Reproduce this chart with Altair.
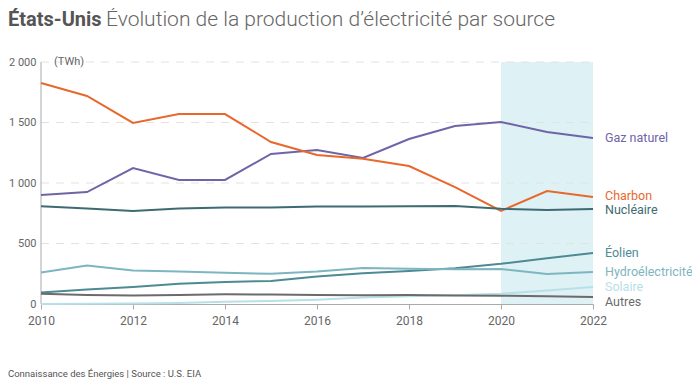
import altair as alt
import pandas as pd

years = list(range(2010, 2023))
gaz = [900, 925, 1124, 1025, 1025, 1240, 1273, 1207, 1364, 1471, 1504, 1421, 1372]
charbon = [1826, 1719, 1496, 1570, 1570, 1339, 1231, 1200, 1140, 966, 769, 934, 884]
nucleaire = [807, 790, 769, 789, 797, 797, 805, 805, 807, 809, 787, 777, 785]
eolien = [95, 120, 141, 168, 182, 191, 227, 254, 273, 295, 332, 378, 421]
hydro = [260, 319, 276, 269, 259, 249, 268, 297, 292, 288, 289, 248, 264]
solaire = [1, 2, 4, 9, 18, 25, 36, 53, 64, 72, 85, 112, 140]
autres = [85, 75, 70, 75, 80, 78, 75, 72, 74, 70, 68, 64, 58]

names = ["Gaz naturel", "Charbon", "Nucléaire", "Éolien", "Hydroélectricité", "Solaire", "Autres"]
colors = ["#6f64a8", "#e8682c", "#3e6b72", "#4e8a93", "#7db5c0", "#b8e0e8", "#6b6b6b"]
values = [gaz, charbon, nucleaire, eolien, hydro, solaire, autres]

grid_values = [500, 1000, 1500, 2000]
y_ticks = [0, 500, 1000, 1500, 2000]
x_ticks = list(range(2010, 2023, 2))
x_start = 2010
highlight = {"start": [2020], "end": [2022]}

title_bold = "États-Unis"
title_light = "Évolution de la production d’électricité par source"
unit_text = "(TWh)"
footnote = "Connaissance des Énergies | Source : U.S. EIA"

rows = []
for n, vals in zip(names, values):
    for yr, v in zip(years, vals):
        rows.append({"annee": yr, "twh": v, "source": n})
df = pd.DataFrame(rows)

FONT = "Roboto"
W, H = 552, 242

xscale = alt.Scale(domain=[2010, 2022], nice=False, zero=False)
yscale = alt.Scale(domain=[0, 2000], nice=False)
cscale = alt.Scale(domain=names, range=colors)

x_axis = alt.Axis(
    values=x_ticks, format="d", grid=False, title=None, labelFlush=False,
    labelFont=FONT, labelFontSize=12, labelColor="#666",
    domain=True, domainColor="#aaa", domainWidth=1,
    tickColor="#aaa", tickSize=5, labelPadding=6,
)
y_axis = alt.Axis(
    values=y_ticks, grid=False, title=None, ticks=False, labelFlush=False,
    labelExpr="replace(format(datum.value, ','), ',', ' ')",
    labelFont=FONT, labelFontSize=11, labelColor="#666",
    domain=False, labelPadding=5,
)

rect = alt.Chart(pd.DataFrame(highlight)).mark_rect(color="#def1f5").encode(
    x=alt.X("start:Q", scale=xscale, axis=x_axis),
    x2="end:Q",
    y=alt.value(0),
    y2=alt.value(H),
)

grid = alt.Chart(pd.DataFrame({"g": grid_values})).mark_rule(
    color="#e2e2e2", strokeDash=[8, 7], strokeWidth=1
).encode(
    y=alt.Y("g:Q", scale=yscale, axis=y_axis),
    x=alt.value(0),
    x2=alt.value(W),
)

yline = alt.Chart(pd.DataFrame({"x0": [x_start]})).mark_rule(
    color="#aaa", strokeWidth=1
).encode(
    x=alt.X("x0:Q", scale=xscale, axis=x_axis),
    y=alt.value(0),
    y2=alt.value(H),
)

lines = alt.Chart(df).mark_line(strokeWidth=2).encode(
    x=alt.X("annee:Q", scale=xscale, axis=x_axis),
    y=alt.Y("twh:Q", scale=yscale, axis=y_axis),
    color=alt.Color("source:N", scale=cscale, legend=None),
    order=alt.Order("annee:Q"),
)

last = df[df["annee"] == 2022]
label_layers = []
label_dy = {"Charbon": -1, "Nucléaire": 1, "Autres": 5}
for n in names:
    label_layers.append(
        alt.Chart(last[last["source"] == n]).mark_text(
            align="left", baseline="middle", dx=12, dy=label_dy.get(n, 0), font=FONT, fontSize=12.5
        ).encode(
            x=alt.X("annee:Q", scale=xscale, axis=x_axis),
            y=alt.Y("twh:Q", scale=yscale, axis=y_axis),
            text="source:N",
            color=alt.Color("source:N", scale=cscale, legend=None),
        )
    )

unit = alt.Chart(pd.DataFrame({"t": [unit_text]})).mark_text(
    align="left", baseline="middle", font=FONT, fontSize=11, color="#666"
).encode(text="t:N", x=alt.value(13), y=alt.value(0))

t1 = alt.Chart(pd.DataFrame({"t": [title_bold]})).mark_text(
    align="left", baseline="alphabetic", font=FONT, fontSize=20, fontWeight="bold", color="#555"
).encode(text="t:N", x=alt.value(-33), y=alt.value(-36))

t2 = alt.Chart(pd.DataFrame({"t": [title_light]})).mark_text(
    align="left", baseline="alphabetic", font=FONT, fontSize=21, fontWeight=300, color="#666"
).encode(text="t:N", x=alt.value(65), y=alt.value(-36))

foot = alt.Chart(pd.DataFrame({"t": [footnote]})).mark_text(
    align="left", baseline="middle", font=FONT, fontSize=9.5, color="#555"
).encode(text="t:N", x=alt.value(-33), y=alt.value(312))

chart = alt.layer(rect, grid, yline, lines, *label_layers, unit, t1, t2, foot).properties(
    width=W, height=H,
    padding={"left": 33, "top": 54, "right": 99, "bottom": 75},
    autosize=alt.AutoSizeParams(type="none"),
).configure_view(stroke=None)

chart.save("out.html", embed_options={"renderer": "svg", "actions": False})
